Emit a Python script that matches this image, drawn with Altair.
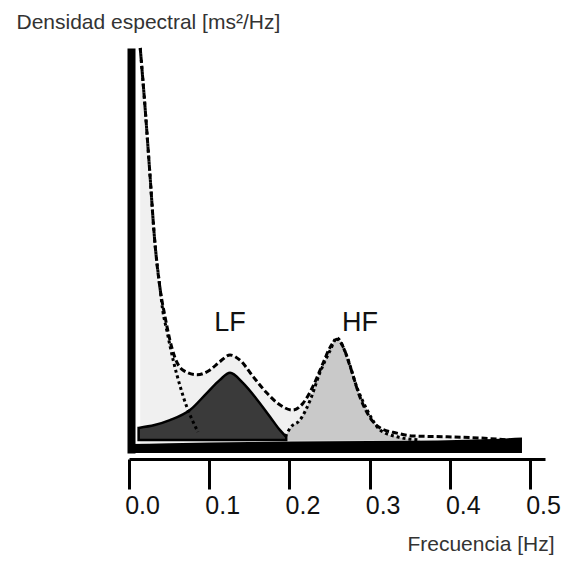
import altair as alt
import pandas as pd

# ---- data (frequency in Hz, power in arbitrary units) ----
total_f = [0.014, 0.020, 0.026, 0.032, 0.039, 0.045, 0.051, 0.057, 0.067, 0.085, 0.101,
           0.113, 0.126, 0.138, 0.155, 0.172, 0.188, 0.204, 0.217, 0.229, 0.242, 0.251,
           0.259, 0.267, 0.276, 0.288, 0.300, 0.313, 0.334, 0.354, 0.397, 0.438, 0.475]
total_p = [100, 85.4, 69.1, 52.6, 40.2, 33.6, 27.9, 23.7, 20.5, 19.3, 20.5,
           22.5, 24.2, 23.0, 18.8, 14.8, 11.9, 10.6, 12.3, 16.3, 22.2, 26.2,
           28.1, 26.2, 21.2, 13.8, 8.9, 6.2, 4.9, 4.2, 4.0, 3.7, 3.2]

vlf_f = [0.014, 0.020, 0.026, 0.032, 0.039, 0.042, 0.047, 0.055, 0.064, 0.072, 0.079, 0.086]
vlf_p = [100, 85.4, 69.1, 52.6, 40.2, 35.3, 30.4, 23.0, 16.3, 11.4, 8.1, 5.2]

lf_f = [0.012, 0.032, 0.051, 0.076, 0.097, 0.113, 0.126, 0.142, 0.160, 0.176, 0.188, 0.196]
lf_p = [6.2, 6.9, 8.1, 10.6, 14.8, 18.0, 19.8, 17.3, 13.1, 8.9, 5.7, 4.0]

hf_f = [0.195, 0.201, 0.213, 0.226, 0.238, 0.251, 0.259, 0.272, 0.284, 0.297, 0.313, 0.334, 0.363]
hf_p = [4.0, 6.2, 8.1, 13.1, 19.8, 25.4, 28.4, 23.7, 16.3, 10.6, 5.7, 4.0, 3.2]

band_f = [0.0, 0.05, 0.15, 0.25, 0.35, 0.42, 0.47, 0.49]
band_p = [2.2, 2.4, 2.7, 2.9, 3.0, 3.3, 3.6, 3.8]

label_text = ["LF", "HF"]
label_f = [0.126, 0.288]
label_p = [32.0, 32.0]

tick_values = [0.0, 0.1, 0.2, 0.3, 0.4, 0.5]

# ---- tables ----
total = pd.DataFrame({"f": total_f, "p": total_p})
vlf = pd.DataFrame({"f": vlf_f, "p": vlf_p})
lf = pd.DataFrame({"f": lf_f, "p": lf_p})
hf = pd.DataFrame({"f": hf_f, "p": hf_p})
band = pd.DataFrame({"f": band_f, "p": band_p})
labels = pd.DataFrame({"f": label_f, "p": label_p, "t": label_text})

FONT = "Liberation Sans"

xaxis = alt.Axis(values=tick_values, format=".1f", grid=False,
                 tickSize=30, tickWidth=3, tickColor="black",
                 domainWidth=3, domainColor="black", offset=6,
                 labelFont=FONT, labelFontSize=25, labelColor="#111",
                 labelPadding=4, labelOffset=13, labelFlush=False,
                 title="Frecuencia [Hz]", titleFont=FONT, titleFontSize=21,
                 titleFontWeight="normal", titleColor="#333",
                 titleAlign="right", titleBaseline="alphabetic",
                 titleX=425, titleY=91, titleLimit=400)
yaxis = alt.Axis(labels=False, ticks=False, grid=False,
                 domainWidth=8, domainColor="black", offset=-2,
                 title="Densidad espectral [ms²/Hz]", titleFont=FONT, titleFontSize=21,
                 titleFontWeight="normal", titleColor="#333", titleAngle=0,
                 titleAlign="left", titleBaseline="alphabetic",
                 titleX=-115, titleY=-20, titleLimit=400)

xs = alt.Scale(domain=[0, 0.5187], nice=False, zero=False)
ys = alt.Scale(domain=[0, 100], nice=False, zero=False)

X = alt.X("f:Q", scale=xs, axis=xaxis)
Y = alt.Y("p:Q", scale=ys, axis=yaxis)

bg = alt.Chart(total).mark_area(color="#f0f0f0", interpolate="monotone").encode(
    x=X, y=Y, y2=alt.datum(2.0))
hf_area = alt.Chart(hf).mark_area(color="#c9c9c9", interpolate="monotone").encode(
    x=X, y=Y, y2=alt.datum(3.0))
lf_area = alt.Chart(lf).mark_area(color="#3a3a3a", stroke="black", strokeWidth=2.5,
                                  interpolate="monotone").encode(
    x=X, y=Y, y2=alt.datum(3.2))
band_area = alt.Chart(band).mark_area(color="black", interpolate="monotone").encode(
    x=X, y=Y, y2=alt.datum(0))
hf_line = alt.Chart(hf).mark_line(color="black", strokeWidth=3, strokeDash=[3, 3],
                                  interpolate="monotone").encode(x=X, y=Y)
vlf_line = alt.Chart(vlf).mark_line(color="black", strokeWidth=3, strokeDash=[3, 3],
                                    interpolate="monotone").encode(x=X, y=Y)
total_line = alt.Chart(total).mark_line(color="black", strokeWidth=3, strokeDash=[6, 3],
                                        interpolate="monotone").encode(x=X, y=Y)
text = alt.Chart(labels).mark_text(font=FONT, fontSize=27, color="#111",
                                   baseline="middle").encode(x=X, y=Y, text="t:N")

chart = alt.layer(bg, hf_area, lf_area, band_area, hf_line, vlf_line, total_line, text).properties(
    width=416, height=405,
    autosize=alt.AutoSizeParams(type="none"),
    padding={"left": 121, "top": 40, "right": 16, "bottom": 104},
    background="white",
).configure_view(stroke=None)

chart.save("out.html", embed_options={"renderer": "svg", "actions": False})
